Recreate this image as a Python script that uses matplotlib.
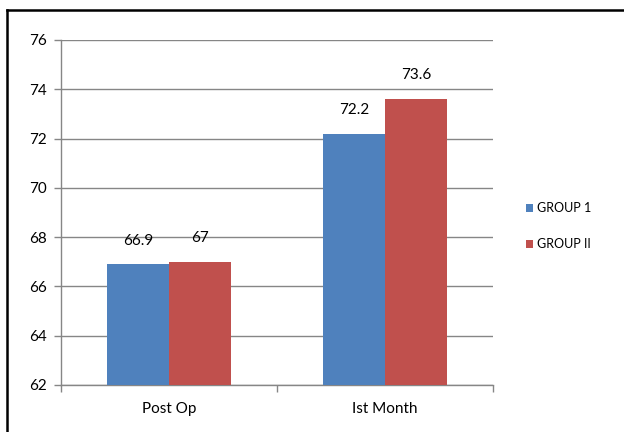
import matplotlib.pyplot as plt
import numpy as np

# Data
categories = ['Post Op', 'Ist Month']
group_1 = [66.9, 72.2]
group_2 = [67, 73.6]
series_names = ['GROUP 1', 'GROUP II']
colors = ['#4F81BD', '#C0504D']

plt.rcParams['font.family'] = ['Lato', 'DejaVu Sans']

fig = plt.figure(figsize=(6.24, 4.32), dpi=100)
ax = fig.add_axes([61 / 624, 1 - 385 / 432, 432 / 624, 345 / 432])

x = np.arange(len(categories))
width = 1 / 3.5

bars1 = ax.bar(x - width / 2, group_1, width, color=colors[0], label=series_names[0], zorder=3)
bars2 = ax.bar(x + width / 2, group_2, width, color=colors[1], label=series_names[1], zorder=3)

# value labels above each bar
for bars, vals in ((bars1, group_1), (bars2, group_2)):
    for b, v in zip(bars, vals):
        ax.annotate('%g' % v, (b.get_x() + b.get_width() / 2, v),
                    xytext=(0, 12), textcoords='offset points',
                    ha='center', va='bottom', fontsize=11)

ax.set_ylim(62, 76)
ax.set_yticks(np.arange(62, 77, 2))
ax.set_xlim(-0.5, 1.5)
ax.set_xticks([-0.5, 0.5, 1.5], minor=False)
ax.set_xticklabels([])
ax.set_xticks(x, minor=True)
ax.set_xticklabels(categories, minor=True)
ax.tick_params(axis='x', which='minor', length=0, pad=12, labelsize=11)
ax.tick_params(axis='x', which='major', length=5, color='#868686', width=1)
ax.tick_params(axis='y', length=5, color='#868686', width=1, labelsize=11, pad=5)

ax.yaxis.grid(True, color='#868686', linewidth=1, zorder=0)
for side in ['top', 'right']:
    ax.spines[side].set_visible(False)
for side in ['left', 'bottom']:
    ax.spines[side].set_color('#868686')
    ax.spines[side].set_linewidth(1)

ax.legend(loc='center left', bbox_to_anchor=(1.05, 0.46), frameon=False,
          handlelength=0.6, handleheight=0.6, handletextpad=0.3,
          labelspacing=1.9, fontsize=9)

# outer chart frame (only top and left edges fall inside the image)
left = 7 / 624
top = 1 - 10 / 432
fig.add_artist(plt.Line2D([left, 1.0], [top, top], transform=fig.transFigure,
                          color='black', linewidth=1.8))
fig.add_artist(plt.Line2D([left, left], [0.0, top], transform=fig.transFigure,
                          color='black', linewidth=1.8))

fig.savefig('out.png', dpi=100)
